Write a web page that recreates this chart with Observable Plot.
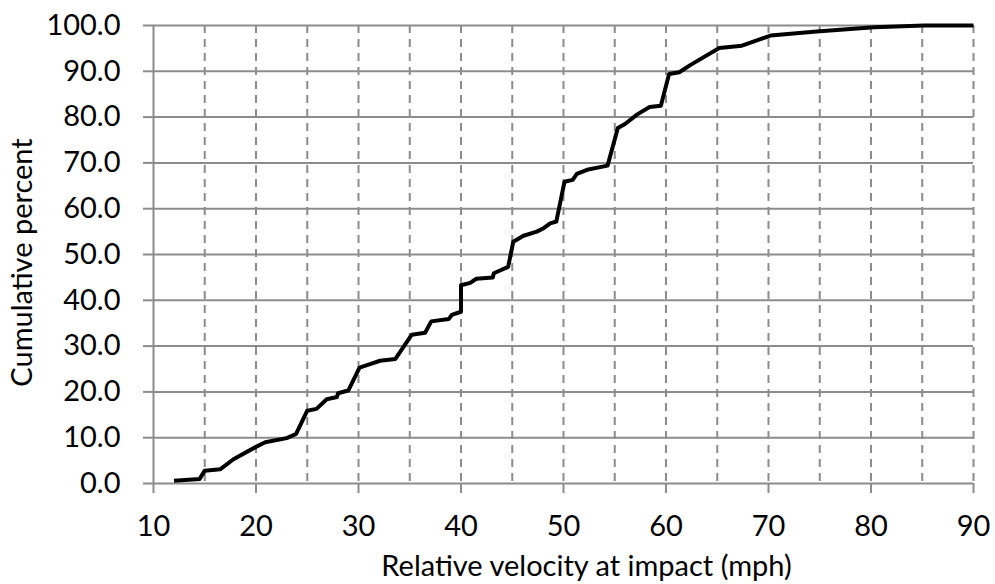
<!DOCTYPE html>
<html>
<head>
<meta charset="utf-8">
<script src="https://cdn.jsdelivr.net/npm/d3@7"></script>
<script src="https://cdn.jsdelivr.net/npm/@observablehq/plot@0.6"></script>
<style>
  html, body { margin: 0; padding: 0; background: #fff; }
  #chart { width: 995px; height: 584px; }
  svg { font-family: Lato, "Open Sans", sans-serif; }
</style>
</head>
<body>
<div id="chart"></div>
<script>
// Relative velocity at impact (mph)
const velocity = [12.0, 14.5, 15.0, 16.5, 17.8, 20.0, 20.9, 23.0, 23.9, 25.0, 25.9, 26.9, 27.9, 28.0, 29.0,
  30.1, 31.2, 32.1, 33.6, 35.2, 36.5, 37.1, 38.8, 39.1, 40.0, 40.0, 40.9, 41.5, 43.1, 43.2, 44.6,
  45.1, 46.1, 47.4, 48.1, 48.7, 49.3, 50.1, 50.9, 51.3, 52.3, 54.3, 55.3, 56.0, 57.2, 58.4, 59.5,
  60.3, 61.3, 62.4, 65.2, 67.4, 67.9, 70.2, 74.7, 80.3, 85.2, 90.0];
// Cumulative percent
const cumulative = [0.6, 1.0, 2.8, 3.1, 5.3, 8.0, 9.0, 9.9, 10.8, 15.9, 16.3, 18.4, 18.9, 19.7, 20.3,
  25.3, 26.1, 26.8, 27.2, 32.5, 32.9, 35.4, 35.9, 36.8, 37.5, 43.3, 43.8, 44.7, 45.0, 45.9, 47.3,
  52.8, 54.1, 55.0, 55.8, 56.8, 57.2, 65.9, 66.3, 67.6, 68.5, 69.4, 77.6, 78.5, 80.6, 82.2, 82.5,
  89.4, 89.8, 91.4, 95.1, 95.6, 96.0, 97.8, 98.7, 99.6, 100.0, 100.0];

const xTicks = [10, 20, 30, 40, 50, 60, 70, 80, 90];
const xGrid = [15, 20, 25, 30, 35, 40, 45, 50, 55, 60, 65, 70, 75, 80, 85, 90];
const yTicks = [0, 10, 20, 30, 40, 50, 60, 70, 80, 90, 100];
const xTitle = "Relative velocity at impact (mph)";
const yTitle = "Cumulative percent";

const data = velocity.map((v, i) => ({v, c: cumulative[i]}));
const grid = "#8c8c8c";
const fs = 29;

const chart = Plot.plot({
  width: 995,
  height: 584,
  marginLeft: 153,
  marginRight: 22,
  marginTop: 25,
  marginBottom: 101,
  style: {background: "#fff", color: "#000", fontSize: fs + "px", fontFamily: "Lato, 'Open Sans', sans-serif"},
  x: {domain: [10, 90]},
  y: {domain: [0, 100]},
  marks: [
    Plot.ruleX(xGrid, {stroke: grid, strokeWidth: 2, strokeDasharray: "8,6"}),
    Plot.ruleY(yTicks, {stroke: grid, strokeWidth: 2}),
    Plot.ruleX([10], {stroke: grid, strokeWidth: 2}),
    Plot.axisY({ticks: yTicks, tickSize: 10, tickPadding: 23, stroke: grid, strokeWidth: 2, fill: "#000",
      tickFormat: d3.format(".1f"), label: null, fontSize: fs}),
    Plot.axisX({ticks: xTicks, tickSize: 10, tickPadding: 22, stroke: grid, strokeWidth: 2, fill: "#000",
      label: null, fontSize: fs}),
    Plot.line(data, {x: "v", y: "c", stroke: "#000", strokeWidth: 4, strokeLinejoin: "round", strokeLinecap: "butt"}),
    Plot.text([xTitle], {frameAnchor: "bottom", dy: 92, dx: 23, fontSize: fs, fill: "#000"}),
    Plot.text([yTitle], {frameAnchor: "left", textAnchor: "middle", rotate: -90, dx: -131, dy: 8, fontSize: fs, fill: "#000"})
  ]
});
document.getElementById("chart").appendChild(chart);
</script>
</body>
</html>
